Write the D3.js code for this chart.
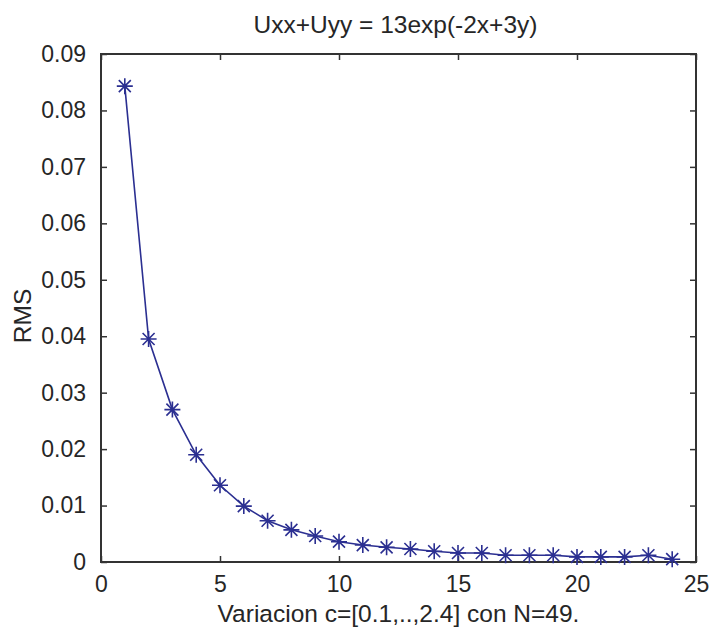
<!DOCTYPE html>
<meta charset="utf-8">
<title>RMS</title>
<style>
  body { margin: 0; background: #fff; }
  svg { display: block; font-family: "Liberation Sans", Arial, sans-serif; }
  .tick text { fill: #262626; }
</style>
<body>
<svg width="711" height="628" id="chart"></svg>
<script src="https://d3js.org/d3.v7.min.js"></script>
<script>
// data
var xs = d3.range(1, 25);
var rms = [0.0843, 0.0395, 0.0270, 0.0190, 0.0136, 0.0099, 0.0073, 0.0057,
           0.0046, 0.0036, 0.0030, 0.0026, 0.0023, 0.0019, 0.0016, 0.0016,
           0.0012, 0.0012, 0.0012, 0.0009, 0.0009, 0.0009, 0.0012, 0.0005];
var xTicks = [0, 5, 10, 15, 20, 25];
var yTicks = [0, 0.01, 0.02, 0.03, 0.04, 0.05, 0.06, 0.07, 0.08, 0.09];
var titleText = "Uxx+Uyy = 13exp(-2x+3y)";
var xLabel = "Variacion c=[0.1,..,2.4] con N=49.";
var yLabel = "RMS";

var svg = d3.select("#chart"),
    pL = 101, pR = 696, pT = 54, pB = 562;

var x = d3.scaleLinear().domain([0, 25]).range([pL, pR]);
var y = d3.scaleLinear().domain([0, 0.09]).range([pB, pT]);

var axisColor = "#333",
    lineColor = "#2b2f91";

// axes, ticks pointing in like matlab
function styleAxis(g) {
  g.select(".domain").remove();
  g.selectAll(".tick line").attr("stroke", axisColor).attr("stroke-width", 1.5);
  g.selectAll(".tick text").attr("font-size", 23);
}

svg.append("g")
    .attr("transform", "translate(0," + pB + ")")
    .call(d3.axisBottom(x).tickValues(xTicks).tickFormat(d3.format("d"))
      .tickSizeInner(-6).tickSizeOuter(0).tickPadding(14))
    .call(styleAxis);

svg.append("g")
    .attr("transform", "translate(0," + pT + ")")
    .call(d3.axisTop(x).tickValues(xTicks).tickFormat("")
      .tickSizeInner(-6).tickSizeOuter(0))
    .call(styleAxis);

svg.append("g")
    .attr("transform", "translate(" + pL + ",0)")
    .call(d3.axisLeft(y).tickValues(yTicks)
      .tickFormat(function(d) { return d === 0 ? "0" : d3.format(".2f")(d); })
      .tickSizeInner(-6).tickSizeOuter(0).tickPadding(15))
    .call(styleAxis);

svg.append("g")
    .attr("transform", "translate(" + pR + ",0)")
    .call(d3.axisRight(y).tickValues(yTicks).tickFormat("")
      .tickSizeInner(-6).tickSizeOuter(0))
    .call(styleAxis);

// box
svg.append("rect")
    .attr("x", pL).attr("y", pT)
    .attr("width", pR - pL).attr("height", pB - pT)
    .attr("fill", "none")
    .attr("stroke", axisColor)
    .attr("stroke-width", 2);

// line
var pts = xs.map(function(d, i) { return [d, rms[i]]; });

svg.append("path")
    .datum(pts)
    .attr("fill", "none")
    .attr("stroke", lineColor)
    .attr("stroke-width", 1.6)
    .attr("d", d3.line().x(function(d) { return x(d[0]); }).y(function(d) { return y(d[1]); }));

// star markers (+ and x)
var r = 8, rd = 6;
var stars = svg.append("g").selectAll("g")
    .data(pts)
    .enter().append("g")
    .attr("transform", function(d) { return "translate(" + x(d[0]) + "," + y(d[1]) + ")"; })
    .attr("stroke", lineColor)
    .attr("stroke-width", 1.6);
stars.append("path")
    .attr("d", "M" + (-r) + ",0H" + r + "M0," + (-r) + "V" + r +
               "M" + (-rd) + "," + (-rd) + "L" + rd + "," + rd +
               "M" + (-rd) + "," + rd + "L" + rd + "," + (-rd));

// text
svg.append("text")
    .attr("x", (pL + pR) / 2 - 3)
    .attr("y", 33)
    .attr("text-anchor", "middle")
    .attr("font-size", 24.5)
    .attr("fill", "#262626")
    .text(titleText);

svg.append("text")
    .attr("x", (pL + pR) / 2)
    .attr("y", 622)
    .attr("text-anchor", "middle")
    .attr("font-size", 24.5)
    .attr("fill", "#262626")
    .text(xLabel);

svg.append("text")
    .attr("transform", "translate(31,316) rotate(-90)")
    .attr("text-anchor", "middle")
    .attr("font-size", 24.5)
    .attr("fill", "#262626")
    .text(yLabel);
</script>
</body>
